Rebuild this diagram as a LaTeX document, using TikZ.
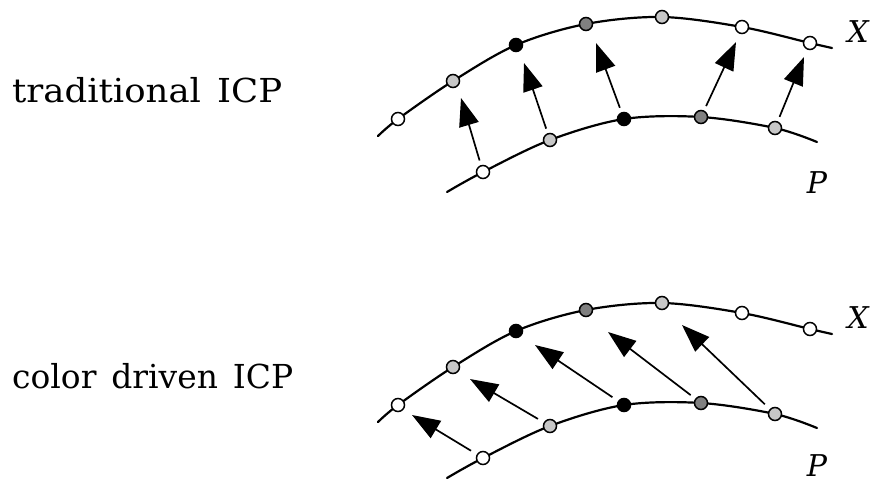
\documentclass[tikz,border=0pt]{standalone}
\usepackage{fontspec}
\usepackage{graphicx}
\setmainfont{DejaVu Serif}
\usetikzlibrary{arrows.meta}
\definecolor{ptlight}{gray}{0.78}
\definecolor{ptdark}{gray}{0.50}
\newcommand{\gap}{\hspace{15pt}}
\tikzset{
  curve/.style={line width=2.2pt, line cap=round},
  pt/.style={circle, draw=black, line width=1.5pt, minimum size=13pt, inner sep=0pt},
  ptw/.style={pt, fill=white},
  ptl/.style={pt, fill=ptlight},
  ptd/.style={pt, fill=ptdark},
  ptb/.style={pt, fill=black},
  corr/.style={line width=1.7pt, -{Triangle[length=28pt,width=20pt]}},
  lbl/.style={font=\fontsize{33}{40}\selectfont, inner sep=0pt, anchor=base west},
  sym/.style={font=\fontsize{30}{36}\selectfont\itshape, inner sep=0pt, anchor=base}
}
\begin{document}
\begin{tikzpicture}[x=1pt,y=-1pt]
\useasboundingbox (0,0) rectangle (873,482);

% ---------- traditional ICP ----------
\node[lbl] (t1) at (12,102) {\resizebox{270pt}{\height}{traditional\gap ICP}};

\coordinate (xa0) at (378,136);
\coordinate (xa1) at (398,119);
\coordinate (xa2) at (453,81);
\coordinate (xa3) at (516,45);
\coordinate (xa4) at (586,24);
\coordinate (xa5) at (662,17);
\coordinate (xa6) at (742,27);
\coordinate (xa7) at (810,43);
\coordinate (xa8) at (832,48);

\coordinate (pa0) at (447,192);
\coordinate (pa1) at (483,172);
\coordinate (pa2) at (550,140);
\coordinate (pa3) at (624,119);
\coordinate (pa4) at (701,117);
\coordinate (pa5) at (775,128);
\coordinate (pa6) at (817,142);

\draw[curve] plot[smooth, tension=0.55] coordinates {(xa0) (xa1) (xa2) (xa3) (xa4) (xa5) (xa6) (xa7) (xa8)};
\draw[curve] plot[smooth, tension=0.55] coordinates {(pa0) (pa1) (pa2) (pa3) (pa4) (pa5) (pa6)};

\node[ptw] (XA1) at (xa1) {};
\node[ptl] (XA2) at (xa2) {};
\node[ptb] (XA3) at (xa3) {};
\node[ptd] (XA4) at (xa4) {};
\node[ptl] (XA5) at (xa5) {};
\node[ptw] (XA6) at (xa6) {};
\node[ptw] (XA7) at (xa7) {};

\node[ptw] (PA1) at (pa1) {};
\node[ptl] (PA2) at (pa2) {};
\node[ptb] (PA3) at (pa3) {};
\node[ptd] (PA4) at (pa4) {};
\node[ptl] (PA5) at (pa5) {};

\coordinate (ta1) at (461,98);
\coordinate (ta2) at (524,63);
\coordinate (ta3) at (596,43);
\coordinate (ta4) at (736,42);
\coordinate (ta5) at (804,57);

\draw[corr, shorten <=12pt] (pa1) -- (ta1);
\draw[corr, shorten <=12pt] (pa2) -- (ta2);
\draw[corr, shorten <=12pt] (pa3) -- (ta3);
\draw[corr, shorten <=12pt] (pa4) -- (ta4);
\draw[corr, shorten <=12pt] (pa5) -- (ta5);

\node[sym] (XlabA) at (858,42) {X};
\node[sym] (PlabA) at (817,193) {P};

% ---------- color driven ICP ----------
\node[lbl] (t2) at (12,388) {\resizebox{281pt}{\height}{color\gap driven\gap ICP}};

\coordinate (xb0) at (378,422);
\coordinate (xb1) at (398,405);
\coordinate (xb2) at (453,367);
\coordinate (xb3) at (516,331);
\coordinate (xb4) at (586,310);
\coordinate (xb5) at (662,303);
\coordinate (xb6) at (742,313);
\coordinate (xb7) at (810,329);
\coordinate (xb8) at (832,334);

\coordinate (pb0) at (447,478);
\coordinate (pb1) at (483,458);
\coordinate (pb2) at (550,426);
\coordinate (pb3) at (624,405);
\coordinate (pb4) at (701,403);
\coordinate (pb5) at (775,414);
\coordinate (pb6) at (817,428);

\draw[curve] plot[smooth, tension=0.55] coordinates {(xb0) (xb1) (xb2) (xb3) (xb4) (xb5) (xb6) (xb7) (xb8)};
\draw[curve] plot[smooth, tension=0.55] coordinates {(pb0) (pb1) (pb2) (pb3) (pb4) (pb5) (pb6)};

\node[ptw] (XB1) at (xb1) {};
\node[ptl] (XB2) at (xb2) {};
\node[ptb] (XB3) at (xb3) {};
\node[ptd] (XB4) at (xb4) {};
\node[ptl] (XB5) at (xb5) {};
\node[ptw] (XB6) at (xb6) {};
\node[ptw] (XB7) at (xb7) {};

\node[ptw] (PB1) at (pb1) {};
\node[ptl] (PB2) at (pb2) {};
\node[ptb] (PB3) at (pb3) {};
\node[ptd] (PB4) at (pb4) {};
\node[ptl] (PB5) at (pb5) {};

\coordinate (tb1) at (412,415);
\coordinate (tb2) at (470,379);
\coordinate (tb3) at (535,345);
\coordinate (tb4) at (608,332);
\coordinate (tb5) at (682,325);

\draw[corr, shorten <=14pt] (pb1) -- (tb1);
\draw[corr, shorten <=14pt] (pb2) -- (tb2);
\draw[corr, shorten <=14pt] (pb3) -- (tb3);
\draw[corr, shorten <=13pt] (pb4) -- (tb4);
\draw[corr, shorten <=14pt] (pb5) -- (tb5);

\node[sym] (XlabB) at (858,328) {X};
\node[sym] (PlabB) at (817,476) {P};
\end{tikzpicture}
\end{document}
